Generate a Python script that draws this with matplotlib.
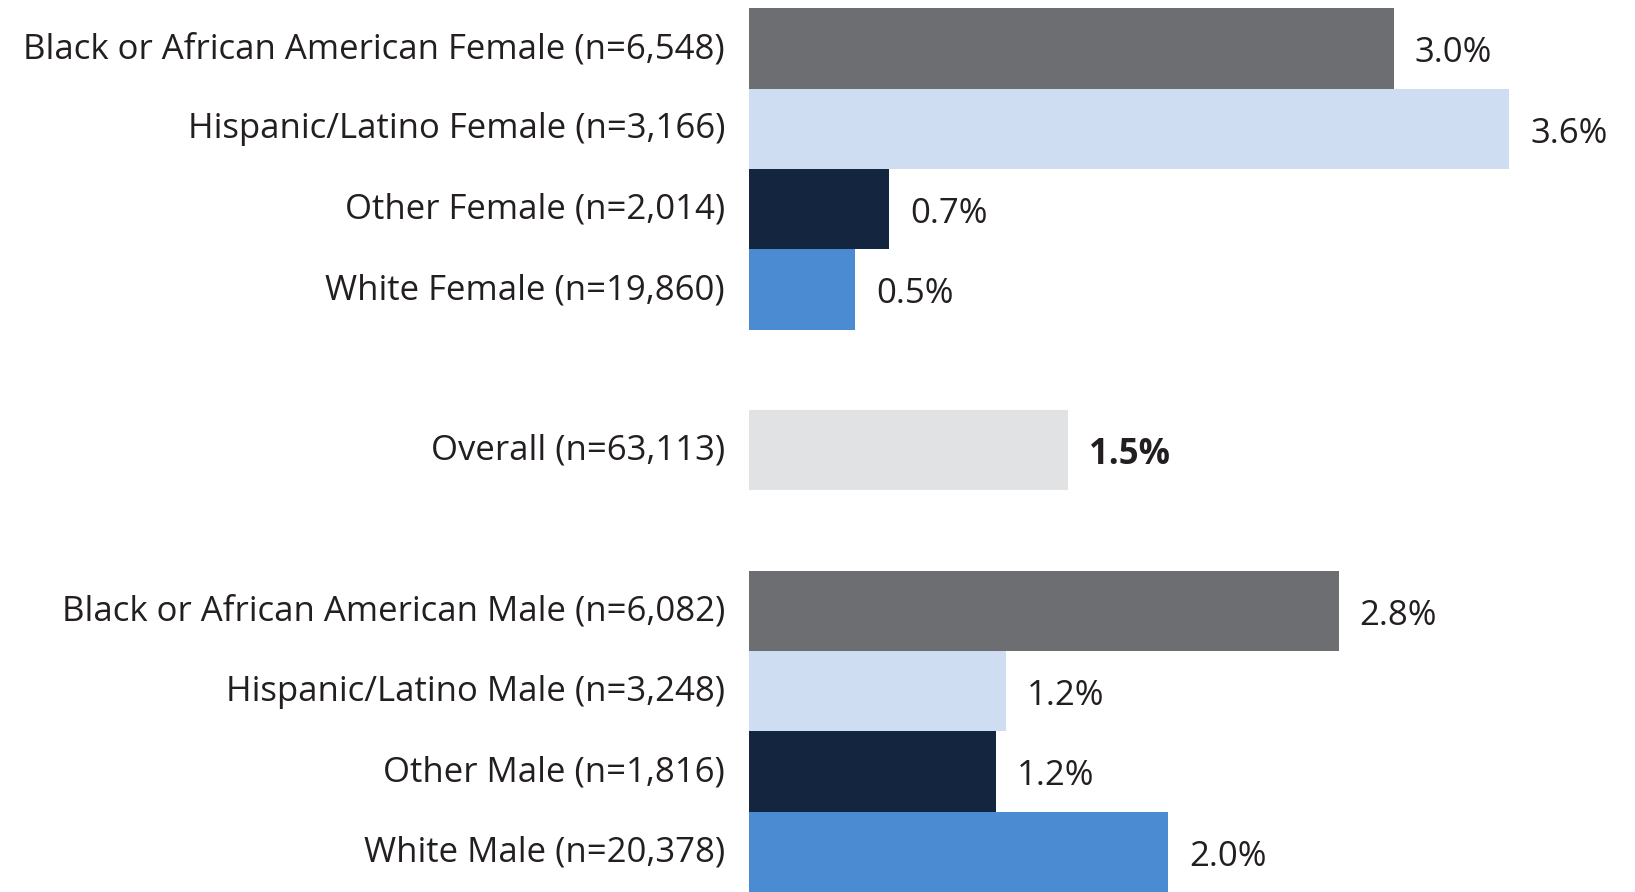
import matplotlib
matplotlib.use("Agg")
import matplotlib.pyplot as plt

# rows from top to bottom; None marks an empty spacer row
categories = [
    "Black or African American Female (n=6,548)",
    "Hispanic/Latino Female (n=3,166)",
    "Other Female (n=2,014)",
    "White Female (n=19,860)",
    None,
    "Overall (n=63,113)",
    None,
    "Black or African American Male (n=6,082)",
    "Hispanic/Latino Male (n=3,248)",
    "Other Male (n=1,816)",
    "White Male (n=20,378)",
]
values = [3.03, 3.57, 0.66, 0.50, None, 1.50, None, 2.77, 1.21, 1.16, 1.97]
value_labels = ["3.0%", "3.6%", "0.7%", "0.5%", None, "1.5%", None,
                "2.8%", "1.2%", "1.2%", "2.0%"]

colors = ["#6d6e71", "#cfddf3", "#14253f", "#4a8bd1", None, "#e1e2e3", None,
          "#6d6e71", "#cfddf3", "#14253f", "#4a8bd1"]

plt.rcParams['font.family'] = ['Open Sans', 'DejaVu Sans']
text_color = "#231f20"
fs = 25

fig = plt.figure(figsize=(16.35, 8.92), dpi=100)
ax = fig.add_axes([748.7 / 1635, 0.0, 1 - 748.7 / 1635, 1 - 8.3 / 892])

rows = [i for i, v in enumerate(values) if v is not None]
ax.barh(rows, [values[i] for i in rows], height=1.0,
        color=[colors[i] for i in rows], linewidth=0)

for i in rows:
    bold = categories[i].startswith("Overall")
    ax.annotate(value_labels[i], xy=(values[i], i), xytext=(15, -3.5),
                textcoords="offset points", va="center", ha="left",
                fontsize=fs, color=text_color,
                fontweight="bold" if bold else "normal")
    ax.annotate(categories[i], xy=(0, i), xytext=(-17, -0.5),
                textcoords="offset points", va="center", ha="right",
                fontsize=fs, color=text_color, annotation_clip=False)

ax.set_yticks([])
ax.set_xticks([])
ax.set_xlim(0, 886.3 / 213)
ax.set_ylim(len(values) - 0.5, -0.5)
for s in ax.spines.values():
    s.set_visible(False)

fig.savefig("out.png", dpi=100)
